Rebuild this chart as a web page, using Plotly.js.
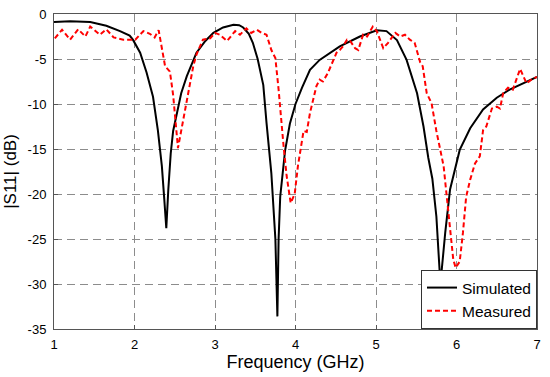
<!DOCTYPE html>
<html>
<head>
<meta charset="utf-8">
<script src="https://cdn.plot.ly/plotly-3.0.1.min.js"></script>
<style>html,body{margin:0;padding:0;background:#fff;}#chart{width:550px;height:377px;}</style>
</head>
<body>
<div id="chart"></div>
<script>
// Simulated |S11| (dB)
const simFreq = [1.0, 1.2, 1.45, 1.65, 1.82, 1.94, 1.98, 2.07, 2.15, 2.23, 2.29, 2.34, 2.37, 2.395, 2.42, 2.45, 2.48, 2.52, 2.58, 2.65, 2.77, 2.88, 2.98, 3.1, 3.23, 3.3, 3.35, 3.42, 3.47, 3.53, 3.6, 3.64, 3.7, 3.75, 3.775, 3.79, 3.81, 3.87, 3.93, 4.0, 4.08, 4.18, 4.3, 4.55, 4.8, 5.01, 5.13, 5.26, 5.38, 5.51, 5.59, 5.65, 5.7, 5.75, 5.8, 5.86, 5.92, 6.04, 6.17, 6.33, 6.5, 6.66, 6.83, 7.0];
const simDb   = [-0.9, -0.8, -0.9, -1.3, -1.9, -2.4, -2.85, -4.3, -6.5, -9.2, -12.9, -16.9, -20.6, -23.8, -19.5, -15.5, -13.0, -11.2, -8.8, -6.9, -4.3, -3.0, -2.1, -1.5, -1.2, -1.25, -1.5, -2.2, -3.2, -5.0, -7.9, -12.1, -17.7, -25.0, -33.6, -25.0, -20.3, -15.2, -12.2, -10.0, -8.2, -6.2, -5.1, -3.6, -2.5, -1.8, -1.9, -2.9, -5.1, -8.8, -12.5, -16.0, -18.3, -22.5, -30.0, -24.3, -19.5, -15.1, -12.7, -10.6, -9.3, -8.4, -7.7, -7.0];

// Measured |S11| (dB)
const measFreq = [1.01, 1.1, 1.2, 1.3, 1.39, 1.45, 1.57, 1.65, 1.74, 1.86, 2.01, 2.11, 2.19, 2.25, 2.3, 2.38, 2.44, 2.48, 2.54, 2.59, 2.65, 2.73, 2.77, 2.85, 2.94, 3.0, 3.06, 3.15, 3.25, 3.31, 3.39, 3.45, 3.52, 3.58, 3.64, 3.7, 3.75, 3.79, 3.85, 3.89, 3.94, 3.99, 4.03, 4.08, 4.1, 4.14, 4.18, 4.22, 4.26, 4.3, 4.34, 4.4, 4.47, 4.51, 4.55, 4.59, 4.64, 4.68, 4.74, 4.78, 4.84, 4.89, 4.96, 5.01, 5.09, 5.15, 5.24, 5.3, 5.36, 5.42, 5.48, 5.55, 5.58, 5.63, 5.69, 5.75, 5.84, 5.88, 5.92, 5.96, 5.99, 6.04, 6.08, 6.12, 6.17, 6.23, 6.29, 6.33, 6.37, 6.44, 6.5, 6.54, 6.58, 6.64, 6.7, 6.79, 6.87, 6.93, 7.0];
const measDb   = [-2.7, -1.75, -2.85, -1.7, -2.5, -1.4, -2.3, -1.7, -2.6, -2.85, -2.85, -1.9, -2.2, -2.6, -1.8, -5.8, -6.4, -9.0, -14.9, -12.5, -9.5, -5.8, -4.5, -2.85, -2.7, -2.1, -2.3, -3.0, -1.9, -2.3, -1.6, -2.1, -1.75, -2.1, -2.3, -4.0, -4.9, -8.4, -14.5, -18.0, -21.0, -20.0, -16.9, -14.0, -13.0, -13.1, -11.0, -9.5, -8.0, -7.3, -7.5, -6.6, -5.1, -4.3, -4.0, -3.6, -2.85, -3.0, -3.8, -4.0, -2.3, -2.5, -1.4, -1.9, -3.8, -3.2, -2.1, -2.5, -2.3, -2.85, -3.2, -5.4, -5.8, -8.8, -9.9, -13.0, -16.9, -20.6, -24.3, -27.3, -28.2, -27.5, -24.3, -20.3, -18.4, -16.6, -15.8, -12.9, -12.5, -10.5, -10.3, -10.5, -8.8, -8.2, -8.4, -6.1, -7.7, -7.3, -7.0];

const xTicks = [1, 2, 3, 4, 5, 6, 7];
const yTicks = [0, -5, -10, -15, -20, -25, -30, -35];
const yTickText = ['0', '-5', '-10', '-15', '-20', '-25', '-30', '-35'];

const FONT = 'Arial, "Liberation Sans", sans-serif';

const traces = [
  {
    x: simFreq, y: simDb, name: 'Simulated', type: 'scatter', mode: 'lines',
    line: {color: '#000000', width: 2}
  },
  {
    x: measFreq, y: measDb, name: 'Measured', type: 'scatter', mode: 'lines',
    line: {color: '#ff0000', width: 2, dash: '5px,3px'}
  }
];

const axisCommon = {
  showline: true, linecolor: '#555', linewidth: 1, mirror: true,
  ticks: 'inside', ticklen: 4, tickcolor: '#555',
  showgrid: true, gridcolor: '#8c8c8c', gridwidth: 1, griddash: '8px,5px',
  zeroline: false, tickfont: {family: FONT, size: 13, color: '#000'}
};

const layout = {
  width: 550, height: 377,
  margin: {l: 54, r: 13, t: 14, b: 48, pad: 0},
  paper_bgcolor: '#fff', plot_bgcolor: '#fff',
  showlegend: true,
  font: {family: FONT, color: '#000'},
  xaxis: Object.assign({}, axisCommon, {
    range: [1, 7], tickvals: xTicks, ticklabelstandoff: 3,
    title: {text: 'Frequency (GHz)', font: {family: FONT, size: 18, color: '#000'}, standoff: 4}
  }),
  yaxis: Object.assign({}, axisCommon, {
    range: [-35, 0], tickvals: yTicks, ticktext: yTickText, ticklabelstandoff: 4,
    title: {text: '|S11| (dB)', font: {family: FONT, size: 17, color: '#000'}, standoff: 6}
  }),
  legend: {
    x: 1, y: 0, xanchor: 'right', yanchor: 'bottom',
    bgcolor: '#fff', bordercolor: '#333', borderwidth: 1,
    font: {family: FONT, size: 15.5, color: '#000'},
    tracegroupgap: 0, itemwidth: 30
  }
};

Plotly.newPlot('chart', traces, layout, {staticPlot: true, displayModeBar: false});
</script>
</body>
</html>
